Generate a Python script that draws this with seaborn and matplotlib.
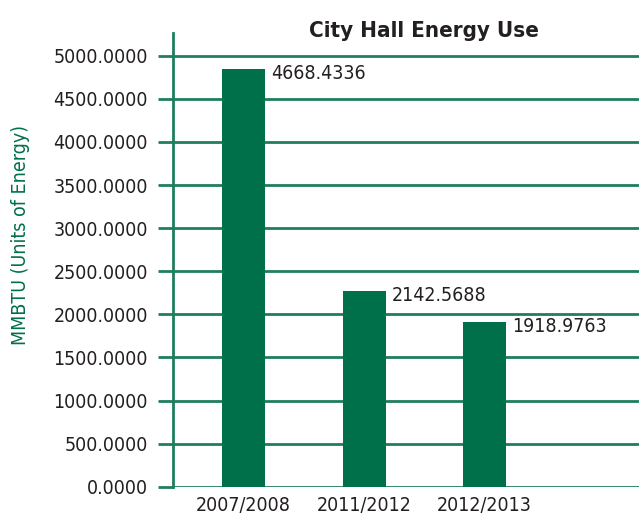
import matplotlib
matplotlib.use("Agg")
import matplotlib.pyplot as plt
import seaborn as sns
import pandas as pd

# Data
years = ["2007/2008", "2011/2012", "2012/2013"]
bar_heights = [4846, 2270, 1911]          # heights as drawn
bar_labels = ["4668.4336", "2142.5688", "1918.9763"]
y_ticks = [0, 500, 1000, 1500, 2000, 2500, 3000, 3500, 4000, 4500, 5000]

green = "#00704A"
line_green = "#1E7F5C"
text_col = "#231F20"

sns.set_style("white")
plt.rcParams["font.family"] = ["DejaVu Sans"]
plt.rcParams["font.stretch"] = "condensed"

df = pd.DataFrame({"year": years, "value": bar_heights})

fig = plt.figure(figsize=(6.39, 5.2), dpi=100)
ax = fig.add_axes([0.2707, 0.064, 0.7293, 0.8725])

sns.barplot(data=df, x="year", y="value", color=green, saturation=1,
            width=0.357, edgecolor="none", linewidth=0, ax=ax, zorder=3)

ax.set_ylim(0, 5263)
ax.set_xlim(-0.585, 3.28)
ax.set_yticks(y_ticks)
ax.set_yticklabels([f"{t:.4f}" for t in y_ticks], fontsize=14, color=text_col)
ax.grid(axis="y", color=line_green, linewidth=2, zorder=0)
ax.grid(axis="x", visible=False)
ax.tick_params(axis="y", left=True, length=11, width=2, color=line_green, pad=7)
ax.tick_params(axis="x", length=0, labelsize=14, labelcolor=text_col, pad=7)

for s in ["top", "right", "bottom"]:
    ax.spines[s].set_visible(False)
ax.spines["left"].set_color(line_green)
ax.spines["left"].set_linewidth(2)

for i, (h, lab) in enumerate(zip(bar_heights, bar_labels)):
    ax.annotate(lab, (i + 0.18, h), xytext=(4, -3), textcoords="offset points",
                ha="left", va="center", fontsize=14, color=text_col)

ax.set_xlabel("")
ax.set_ylabel("")
fig.text(21 / 639, 1 - 235 / 520, "MMBTU (Units of Energy)", rotation=90,
         ha="center", va="center", fontsize=14, color=green)
fig.text(424 / 639, 1 - 37 / 520, "City Hall Energy Use", ha="center",
         va="baseline", fontsize=16, fontweight="bold", color=text_col)

fig.savefig("out.png", dpi=100)
